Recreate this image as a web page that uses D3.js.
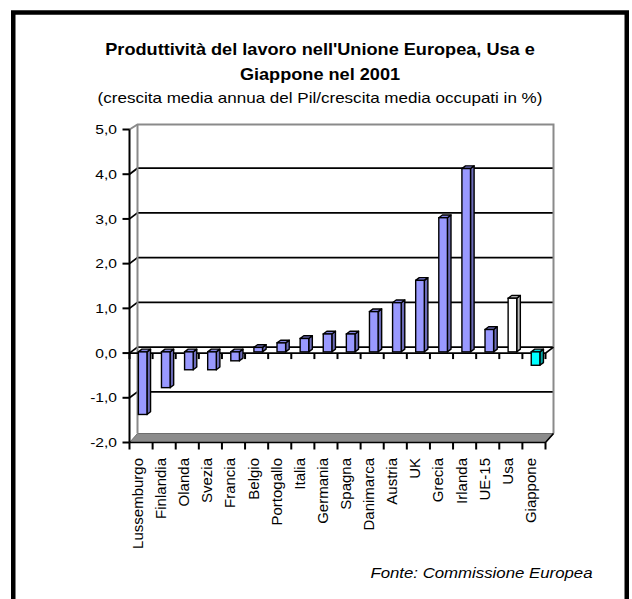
<!DOCTYPE html>
<html><head><meta charset="utf-8">
<script src="https://cdn.jsdelivr.net/npm/d3@7"></script>
<style>body{margin:0;background:#fff} text{font-family:Arial,"Liberation Sans",sans-serif;fill:#000}</style>
</head><body><svg id="c" width="632" height="599"></svg>
<script>
const categories = ["Lussemburgo","Finlandia","Olanda","Svezia","Francia","Belgio","Portogallo","Italia","Germania","Spagna","Danimarca","Austria","UK","Grecia","Irlanda","UE-15","Usa","Giappone"];
const values = [-1.4,-0.8,-0.4,-0.4,-0.2,0.1,0.2,0.3,0.4,0.4,0.9,1.1,1.6,3.0,4.1,0.5,1.2,-0.3];
const groups = ["UE","UE","UE","UE","UE","UE","UE","UE","UE","UE","UE","UE","UE","UE","UE","UE","Usa","Giappone"];
const yTicks = [-2,-1,0,1,2,3,4,5];
const titleLines = ["Produttività del lavoro nell'Unione Europea, Usa e","Giappone nel 2001"];
const subtitle = "(crescita media annua del Pil/crescita media occupati in %)";
const source = "Fonte: Commissione Europea";

const svg = d3.select("#c");
const SX = 1.2; // horizontal stretch of the original rendering

// outer frame
svg.append("rect").attr("x",13.25).attr("y",12.5).attr("width",613.5).attr("height",600)
  .attr("fill","#fff").attr("stroke","#000").attr("stroke-width",4.5);

function stext(x,y,str,size,anchor,sx,extra){
  const t = svg.append("text").attr("transform",`translate(${x},${y}) scale(${sx},1)`)
    .attr("text-anchor",anchor).style("font-size",size+"px").text(str);
  if(extra) extra(t);
  return t;
}
stext(320,55,titleLines[0],16.5,"middle",1.1,t=>t.style("font-weight","bold"));
stext(320,80,titleLines[1],16.5,"middle",1.1,t=>t.style("font-weight","bold"));
stext(320,102.5,subtitle,14.2,"middle",SX);
stext(592.5,578,source,14,"end",SX,t=>t.style("font-style","italic"));

const x = d3.scaleBand().domain(categories).range([129.5,545.5]).paddingInner(0).paddingOuter(0);
const y = d3.scaleLinear().domain([-2,5]).range([442.5,129.5]);
const color = d3.scaleOrdinal().domain(["UE","Usa","Giappone"]).range(["#9999FF","#FFFFFF","#00FFFF"]);
const sideColor = d3.scaleOrdinal().domain(["UE","Usa","Giappone"]).range(["#6B6BB8","#BDBDBD","#00A8A8"]);
const topColor = d3.scaleOrdinal().domain(["UE","Usa","Giappone"]).range(["#8080DD","#E0E0E0","#00D8D8"]);

const DX = 8, DY = -6;
const [x0,x1] = x.range();
const yTop = y(5), yBot = y(-2);
const backBottom = yBot + DY - 3;

// back wall
svg.append("rect").attr("x",x0+DX).attr("y",yTop+DY+1).attr("width",x1-x0).attr("height",backBottom-(yTop+DY+1))
  .attr("fill","#fff");
// floor
svg.append("polygon").attr("points",[[x0,yBot],[x1,yBot],[x1+DX,backBottom],[x0+DX,backBottom]].join(" "))
  .attr("fill","#8C8C8C").attr("stroke","#6e6e6e").attr("stroke-width",1);

// gridlines on back wall + side wall diagonals
const grid = yTicks.filter(v=>v>-2 && v<5);
svg.append("g").selectAll("path").data(grid).join("path")
  .attr("d",v=>`M${x0},${y(v)}L${x0+DX},${y(v)+DY}L${x1+DX},${y(v)+DY}`)
  .attr("fill","none").attr("stroke","#000").attr("stroke-width",1.7);

// wall outlines (gray)
svg.append("path").attr("d",`M${x0},${yTop}L${x0+DX},${yTop+DY+1}L${x1+DX},${yTop+DY+1}L${x1+DX},${backBottom}`)
  .attr("fill","none").attr("stroke","#8a8a8a").attr("stroke-width",2);
svg.append("path").attr("d",`M${x0+DX},${yTop+DY+1}L${x0+DX},${backBottom}`)
  .attr("fill","none").attr("stroke","#8a8a8a").attr("stroke-width",2);

// zero-level plane front edge and right diagonal
svg.append("path").attr("d",`M${x0},${y(0)}L${x1},${y(0)}L${x1+DX},${y(0)+DY}`)
  .attr("fill","none").attr("stroke","#000").attr("stroke-width",1.7);
// floor front edge
svg.append("path").attr("d",`M${x0},${yBot}L${x1},${yBot}L${x1+DX},${backBottom}`)
  .attr("fill","none").attr("stroke","#000").attr("stroke-width",1.7);

// bars
const BW = 8.6, BDX = 3.6, BDY = -2.7, FOFF = 1.6, FOFFY = -1.2;
const bars = svg.append("g").selectAll("g").data(categories.map((c,i)=>({c,v:values[i],g:groups[i]}))).join("g");
bars.each(function(d){
  const g = d3.select(this);
  const cx = x(d.c) + x.bandwidth()/2 + FOFF;
  const xl = cx - BW/2, xr = cx + BW/2;
  const yt = y(Math.max(d.v,0)) + FOFFY, yb = y(Math.min(d.v,0)) + FOFFY;
  g.append("polygon").attr("points",[[xr,yt],[xr+BDX,yt+BDY],[xr+BDX,yb+BDY],[xr,yb]].join(" "))
    .attr("fill",sideColor(d.g)).attr("stroke","#000").attr("stroke-width",1.4).attr("stroke-linejoin","round");
  g.append("polygon").attr("points",[[xl,yt],[xr,yt],[xr+BDX,yt+BDY],[xl+BDX,yt+BDY]].join(" "))
    .attr("fill",topColor(d.g)).attr("stroke","#000").attr("stroke-width",1.4).attr("stroke-linejoin","round");
  g.append("rect").attr("x",xl).attr("y",yt).attr("width",BW).attr("height",Math.max(yb-yt,0.5))
    .attr("fill",color(d.g)).attr("stroke","#000").attr("stroke-width",1.4);
});

// y axis
svg.append("line").attr("x1",x0).attr("x2",x0).attr("y1",yTop).attr("y2",yBot).attr("stroke","#000").attr("stroke-width",2);
const loc = d3.formatLocale({decimal:",",thousands:".",grouping:[3],currency:["","€"],minus:"-"});
const fmt = loc.format(".1f");
const yAx = svg.append("g");
yAx.selectAll("line").data(yTicks).join("line")
  .attr("x1",x0-7).attr("x2",x0).attr("y1",v=>y(v)).attr("y2",v=>y(v)).attr("stroke","#000").attr("stroke-width",2);
yTicks.forEach(v=>{
  stext(117,y(v),fmt(v),13,"end",SX,t=>t.attr("dy","0.36em"));
});

// category ticks (at zero plane and at floor)
const bounds = categories.map(c=>x(c)).concat([x1]);
svg.append("g").selectAll("line").data(bounds).join("line")
  .attr("x1",d=>d).attr("x2",d=>d).attr("y1",y(0)).attr("y2",y(0)+6).attr("stroke","#000").attr("stroke-width",2);
svg.append("g").selectAll("line").data(bounds).join("line")
  .attr("x1",d=>d).attr("x2",d=>d).attr("y1",yBot).attr("y2",yBot+7).attr("stroke","#000").attr("stroke-width",2);

// category labels
svg.append("g").selectAll("text").data(categories).join("text")
  .attr("transform",c=>`translate(${x(c)+x.bandwidth()/2-3},458) rotate(-90)`)
  .attr("text-anchor","end").attr("dy","0.33em").style("font-size","15px").text(c=>c);
</script></body></html>
